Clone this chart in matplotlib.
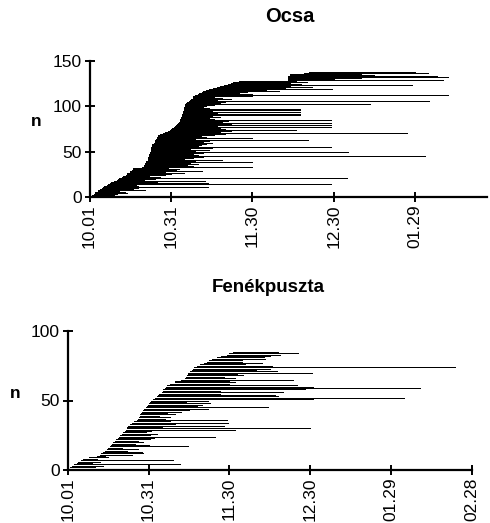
import matplotlib
matplotlib.use("Agg")
import matplotlib.pyplot as plt

plt.rcParams['font.family'] = ['Liberation Sans', 'DejaVu Sans']

# ---- data: days counted from 10.01 (day 0) ----
tick_days = [0, 30, 60, 90, 120, 150]
tick_labels = ["10.01", "10.31", "11.30", "12.30", "01.29", "02.28"]

# Ocsa: arrival and departure day per individual (sorted by arrival)
ocsa_arrival = [
    1, 1, 1.5, 2, 2, 2.5, 3, 3, 4, 4.5,
    5, 5.5, 6.5,
    7, 7.5, 8, 8.5, 9, 10, 10.5, 11, 12, 12.5, 13.5,
    14, 14, 14.5, 15, 15, 15.5, 16, 16,
    19.5, 20, 20, 20.5, 20.5, 21, 21, 21, 21.5, 21.5, 21.5, 21.7,
    22, 22, 22, 22.2, 22.3, 22.4, 22.5, 22.5, 22.6, 22.6,
    22.8, 23, 23, 23.2, 23.5, 23.7, 24, 24, 24.2, 24.5, 24.7, 25, 25.2, 25.4,
    26, 26.5, 27, 28, 29, 29.7,
    30, 30.5, 31, 31.5, 32, 32.2, 32.5, 32.8, 33, 33.2, 33.4,
    33.5, 33.6, 33.8, 34, 34, 34.2, 34.3, 34.4, 34.5, 34.6, 34.7,
    35, 35, 35, 35.1, 35.2, 35.3, 35.3,
    35.5, 36, 36.5, 37, 37.5, 38, 38.2, 38.3,
    39, 39.5, 40, 40.5, 41.4,
    42, 43, 44, 45.5, 47, 48, 49.4,
    50, 51, 52, 53,
    55, 73, 73, 73,
    73, 73.3, 73.5, 73.8, 74,
    79, 81,
]
ocsa_departure = [
    6, 9, 10, 14, 12, 13, 11, 20.5, 16, 18,
    43.8, 18, 17,
    89, 43.6, 22, 25, 42.6, 20, 24, 95, 26, 22, 28,
    30, 27, 35, 28, 41.4, 32, 33, 29,
    60, 38, 36, 40, 37, 34, 60, 39, 48.8, 35, 38, 42,
    123.7, 40, 38, 36, 42, 95.4, 39, 44, 37, 45,
    89, 40, 41, 38, 43, 45, 42, 44, 80.7, 39, 60, 43, 41, 46,
    50, 47, 117, 48, 52, 76,
    50, 48, 89, 47, 89, 52, 46, 89, 49, 51, 89,
    46, 44, 48, 45, 77.7, 46, 77.7, 47, 77.7, 45, 77.7,
    77.7, 44, 42, 43, 45, 46, 103.5,
    48, 50, 125, 47, 52, 49, 46, 60,
    50, 132, 60, 55, 58,
    70, 65, 89.3, 72, 82, 74, 118.8,
    72, 78, 74, 80,
    76, 130.4, 90, 100,
    132, 110, 128, 105, 100,
    124.8, 120,
]

# Fenékpuszta
fenek_arrival = [
    0.5, 1, 1.5, 2.5, 3.5, 4, 5, 5.8, 8, 10.8,
    12, 12.5, 13, 14, 14.5, 15, 15.7,
    16, 16.5, 17, 17.5, 18, 18.8,
    19, 19.5, 20, 20.5, 21.3,
    21.5, 22, 22.2, 22.5,
    23, 24, 24.5, 25.6,
    26, 26.5, 27, 27, 27.3, 27.5,
    28, 28.5, 29, 29.3, 29.8, 30.2, 30.6,
    31, 31.8, 32.5, 33, 33.5, 34, 34.9,
    35.2, 35.5, 36, 36.5, 37, 38, 39.8,
    40, 42, 43.6, 44, 44.3, 44.6, 44.8,
    45.5, 46, 46.6, 47, 48, 49, 50.5, 51.6,
    52.5, 53.5, 55.3, 57, 59, 60, 61.4,
]
fenek_departure = [
    5, 10, 13, 41.7, 9, 12, 39.2, 11, 15, 14,
    24, 28, 27.5, 22, 26, 20, 44.8,
    30, 25, 28, 26, 30.6, 32,
    54.7, 30.6, 33, 29, 31,
    62, 90, 35, 58,
    40, 59.4, 38, 59,
    36, 38, 34, 40, 37, 42,
    45, 52, 74.4, 48, 50, 53, 44,
    52, 91, 124.9, 78, 77, 56.6, 80,
    56.6, 88, 130.8, 91, 85, 60, 62,
    60, 83.5, 62, 58, 65, 63, 90.6,
    77.6, 70, 75, 143.8, 76, 66, 72, 64.6,
    64.6, 73.3, 73, 75, 78.8, 85.5, 78,
]

W, H = 490, 523
fig = plt.figure(figsize=(W / 100, H / 100), dpi=100)

def px_axes(left, right, top, bottom):
    return fig.add_axes([left / W, (H - bottom) / H, (right - left) / W, (bottom - top) / H])

def style(ax, ymax, yticks, xmax, nticks, ylab_x):
    for s in ("top", "right"):
        ax.spines[s].set_visible(False)
    for s in ("left", "bottom"):
        ax.spines[s].set_linewidth(1.6)
        ax.spines[s].set_color("black")
    ax.set_ylim(0, ymax)
    ax.set_xlim(0, xmax)
    ax.set_yticks(yticks)
    ax.set_yticklabels([str(v) for v in yticks], fontsize=12.5)
    ax.set_xticks(tick_days[:nticks])
    ax.set_xticklabels(tick_labels[:nticks], rotation=90, fontsize=12.5)
    ax.tick_params(axis="both", direction="inout", length=7, width=1.4, pad=2)
    ax.set_ylabel("n", rotation=0, fontsize=12.5, fontweight="bold")
    ax.yaxis.set_label_coords(ylab_x, 0.5)

# Top panel: Ocsa
ax1 = px_axes(89.5, 487, 61, 197)
ys1 = list(range(1, len(ocsa_arrival) + 1))
ax1.hlines(ys1, ocsa_arrival, ocsa_departure, colors="black", linewidth=0.6,
           antialiased=False)
style(ax1, 150, [0, 50, 100, 150], 146.5, 5, -0.135)

# Bottom panel: Fenékpuszta
ax2 = px_axes(67.7, 471.7, 331, 470)
ys2 = list(range(1, len(fenek_arrival) + 1))
ax2.hlines(ys2, fenek_arrival, fenek_departure, colors="black", linewidth=0.6,
           antialiased=False)
style(ax2, 100, [0, 50, 100], 150, 6, -0.13)

fig.text(290 / W, 1 - 17 / H, "Ocsa", ha="center", va="center", fontsize=14.5, fontweight="bold")
fig.text(268 / W, 1 - 287 / H, "Fenékpuszta", ha="center", va="center", fontsize=13.5, fontweight="bold")

fig.savefig("out.png", dpi=100)
